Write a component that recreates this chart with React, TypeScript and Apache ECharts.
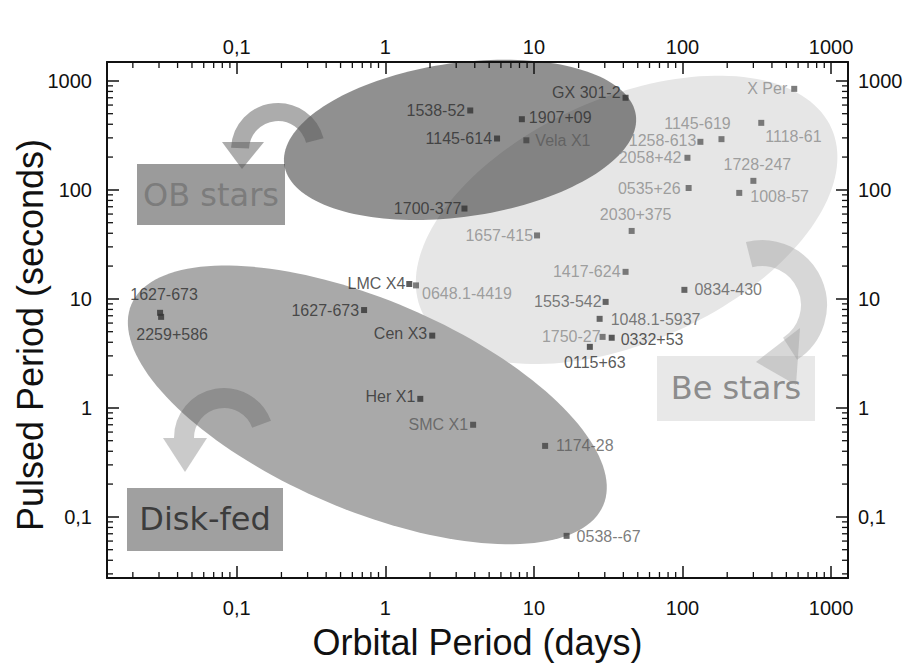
import { useEffect, useRef } from "react";
import * as echarts from "echarts";

// ---------- data ----------
const sourceNames = [
  "GX 301-2", "1538-52", "1907+09", "1145-614", "Vela X1", "1700-377", "1657-415",
  "X Per", "1145-619", "1258-613", "1118-61", "2058+42", "1728-247", "1008-57",
  "0535+26", "2030+375", "1417-624", "0834-430", "1553-542", "1048.1-5937",
  "1750-27", "0332+53", "0115+63", "LMC X4", "0648.1-4419", "1627-673",
  "1627-673", "2259+586", "Cen X3", "Her X1", "SMC X1", "1174-28", "0538--67",
];
const orbitalDays = [
  41.4, 3.73, 8.3, 5.65, 8.9, 3.41, 10.5,
  565, 183, 132, 339, 108, 300, 241,
  110, 45.5, 41.4, 103, 30.4, 27.7,
  29.0, 33.4, 23.8, 1.45, 1.61, 0.72,
  0.0305, 0.031, 2.07, 1.72, 3.9, 11.9, 16.6,
];
const pulsedSeconds = [
  700, 535, 445, 296, 285, 67.4, 38.2,
  845, 292, 276, 412, 197, 121, 93.8,
  104, 42, 17.7, 12.1, 9.38, 6.56,
  4.48, 4.4, 3.63, 13.7, 13.3, 7.9,
  7.45, 6.84, 4.6, 1.21, 0.70, 0.448, 0.067,
];
// tone of marker/label: 0 = dark, 1 = mid grey, 2 = light grey
const sourceTone = [
  0, 0, 0, 0, 1, 0, 2,
  2, 2, 2, 2, 2, 2, 2,
  2, 2, 2, 1, 1, 1,
  2, 0, 0, 0, 2, 0,
  0, 0, 0, 0, 1, 1, 1,
];

const regionNames = ["Be stars", "Disk-fed", "OB stars"];
// ellipse centre (log10 days, log10 s) and two conjugate half-axes (decades)
const regionCentre = [[1.624, 1.725], [-0.121, 0.0275], [0.503, 2.459]];
const regionAxisU = [[1.379, 0.839], [1.588, -0.921], [1.183, 0.2275]];
const regionAxisV = [[0.333, -1.023], [-0.275, -0.887], [0.0718, -0.6995]];

const xMin = 0.0134, xMax = 1300;
const yMin = 0.0275, yMax = 1490;
const minorFactors = [2, 3, 4, 5, 6, 7, 8, 9];
const decades = [0.01, 0.1, 1, 10, 100, 1000];

// ---------- styles ----------
const FONT = "'Liberation Sans', Arial, sans-serif";
const toneLabel = ["#2e2e2e", "#5a5a5a", "#8a8a8a"];
const toneMark = ["#333333", "#444444", "#5c5c5c"];
const regionFill = ["#e6e6e6", "#a9a9a9", "rgba(20,20,20,0.47)"];

// [position, distance, dx, dy]
const labelPlace: [string, number, number, number][] = [
  ["left", 2, 0, -5], ["left", 2, 0, 0], ["right", 4, 0, -2], ["left", 2, 0, 0],
  ["right", 6, 0, 0], ["left", 0, 0, 0], ["left", 1, 0, 0],
  ["left", 4, 0, 0], ["top", 5, -24, 0], ["left", 1, 0, -1], ["right", 1, 0, 14],
  ["left", 3, 0, 0], ["top", 5, 4, 0], ["right", 8, 0, 4],
  ["left", 5, 0, 0], ["top", 5, 4, 0], ["left", 2, 0, 0], ["right", 7, 0, 0],
  ["left", 1, 0, 0], ["right", 8, 0, 1],
  ["left", -1, 0, 0], ["right", 6, 0, 2], ["bottom", 5, 5, 0], ["left", 1, 0, 0],
  ["right", 3, 0, 8], ["left", 2, 0, 0],
  ["top", 5, 4, -2], ["bottom", 5, 11, 2], ["left", 2, 0, -2], ["left", 2, 0, -2],
  ["left", 2, 0, 0], ["right", 8, 0, 0], ["right", 7, 0, 1],
];

const fmt = (v: number) => {
  const e = Math.log10(v);
  const r = Math.round(e);
  if (Math.abs(e - r) > 1e-6) return "";
  if (r < 0) return "0," + "0".repeat(-r - 1) + "1";
  return String(Math.round(Math.pow(10, r)));
};

function axisCommon(min: number, max: number, margin: number) {
  return {
    type: "log" as const,
    logBase: 10,
    min,
    max,
    nameMoveOverlap: false,
    axisLine: { show: true, onZero: false, lineStyle: { color: "#111", width: 2 } },
    axisTick: { show: true, inside: true, length: 12, lineStyle: { color: "#111", width: 1.5 } },
    axisLabel: {
      show: true,
      formatter: fmt,
      fontSize: 20,
      fontFamily: FONT,
      color: "#111",
      margin,
      showMinLabel: false,
      showMaxLabel: false,
    },
    splitLine: { show: false },
    minorTick: { show: false },
  };
}

export default function App() {
  const ref = useRef<HTMLDivElement>(null);
  useEffect(() => {
    if (!ref.current) return;
    const chart = echarts.init(ref.current, undefined, { renderer: "svg" });

    const points = sourceNames.map((n, i) => {
      const [pos, dist, dx, dy] = labelPlace[i];
      const t = sourceTone[i];
      return {
        name: n,
        value: [orbitalDays[i], pulsedSeconds[i]],
        itemStyle: { color: toneMark[t] },
        label: {
          show: true,
          formatter: n,
          position: pos,
          distance: dist,
          offset: [dx, dy],
          color: toneLabel[t],
          fontSize: 16,
          fontFamily: FONT,
        },
      };
    });

    const minorXs: number[] = [];
    const minorYs: number[] = [];
    decades.forEach((d) =>
      minorFactors.forEach((f) => {
        const v = d * f;
        if (v > xMin && v < xMax) minorXs.push(v);
        if (v > yMin && v < yMax) minorYs.push(v);
      })
    );

    const option: any = {
      animation: false,
      backgroundColor: "#fff",
      grid: { left: 107, right: 59, top: 62, bottom: 90, containLabel: false, outerBoundsMode: "none" },
      xAxis: [
        {
          ...axisCommon(xMin, xMax, 20),
          position: "bottom",
          name: "Orbital Period (days)",
          nameLocation: "middle",
          nameGap: 46,
          nameTextStyle: { fontSize: 36, fontFamily: FONT, color: "#111" },
        },
        { ...axisCommon(xMin, xMax, 5), position: "top" },
      ],
      yAxis: [
        {
          ...axisCommon(yMin, yMax, 15),
          position: "left",
          name: "Pulsed Period (seconds)",
          nameLocation: "middle",
          nameGap: 59,
          nameTextStyle: { fontSize: 36, fontFamily: FONT, color: "#111", padding: [0, 30, 0, 0] },
        },
        { ...axisCommon(yMin, yMax, 10), position: "right" },
      ],
      series: [
        {
          type: "custom",
          name: "regions",
          silent: true,
          clip: false,
          z: 1,
          data: regionNames.map((n, i) => ({
            name: n,
            value: [Math.pow(10, regionCentre[i][0]), Math.pow(10, regionCentre[i][1])],
          })),
          encode: { x: 0, y: 1 },
          renderItem: (params: any, api: any) => {
            const i = params.dataIndex;
            const c = regionCentre[i], u = regionAxisU[i], v = regionAxisV[i];
            const pts: number[][] = [];
            for (let k = 0; k < 160; k++) {
              const t = (k / 160) * Math.PI * 2;
              const lx = c[0] + u[0] * Math.cos(t) + v[0] * Math.sin(t);
              const ly = c[1] + u[1] * Math.cos(t) + v[1] * Math.sin(t);
              pts.push(api.coord([Math.pow(10, lx), Math.pow(10, ly)]));
            }
            return { type: "polygon", shape: { points: pts }, style: { fill: regionFill[i] } };
          },
        },
        {
          type: "custom",
          name: "minorTicks",
          silent: true,
          clip: false,
          z: 5,
          data: [[1, 1]],
          encode: { x: 0, y: 1 },
          renderItem: (params: any, api: any) => {
            const cs = params.coordSys;
            const top = cs.y, bottom = cs.y + cs.height, left = cs.x, right = cs.x + cs.width;
            const st = { stroke: "#111", lineWidth: 1.3 };
            const children: any[] = [];
            minorXs.forEach((mv) => {
              const x = api.coord([mv, 1])[0];
              children.push({ type: "line", shape: { x1: x, y1: bottom, x2: x, y2: bottom - 6 }, style: st });
              children.push({ type: "line", shape: { x1: x, y1: top, x2: x, y2: top + 6 }, style: st });
            });
            minorYs.forEach((mv) => {
              const y = api.coord([1, mv])[1];
              children.push({ type: "line", shape: { x1: left, y1: y, x2: left + 6, y2: y }, style: st });
              children.push({ type: "line", shape: { x1: right, y1: y, x2: right - 6, y2: y }, style: st });
            });
            return { type: "group", children };
          },
        },
        {
          type: "scatter",
          name: "sources",
          symbol: "rect",
          symbolSize: 6,
          z: 6,
          data: points,
        },
      ],
      graphic: [
        // OB stars arrow
        {
          type: "arc", z: 10, silent: true,
          shape: { cx: 278, cy: 150, r: 38, startAngle: -0.25, endAngle: -Math.PI + 0.05, clockwise: false },
          style: { stroke: "rgba(90,90,90,0.5)", lineWidth: 18, fill: "none" },
        },
        {
          type: "polygon", z: 10, silent: true,
          shape: { points: [[222, 142], [264, 142], [242, 169]] },
          style: { fill: "rgba(90,90,90,0.5)" },
        },
        // Be stars arrow
        {
          type: "arc", z: 10, silent: true,
          shape: { cx: 762, cy: 305, r: 52, startAngle: -Math.PI / 2 - 0.25, endAngle: 1.0, clockwise: true },
          style: { stroke: "rgba(150,150,150,0.38)", lineWidth: 26, fill: "none" },
        },
        {
          type: "polygon", z: 10, silent: true,
          shape: { points: [[800, 328], [796, 385], [756, 362]] },
          style: { fill: "rgba(150,150,150,0.38)" },
        },
        // Disk-fed arrow
        {
          type: "arc", z: 10, silent: true,
          shape: { cx: 224, cy: 438, r: 40, startAngle: -0.35, endAngle: -Math.PI, clockwise: false },
          style: { stroke: "rgba(80,80,80,0.3)", lineWidth: 20, fill: "none" },
        },
        {
          type: "polygon", z: 10, silent: true,
          shape: { points: [[163, 438], [207, 438], [185, 472]] },
          style: { fill: "rgba(80,80,80,0.3)" },
        },
        // labels
        {
          type: "group", z: 11, silent: true,
          children: [
            { type: "rect", shape: { x: 137, y: 164, width: 148, height: 61 }, style: { fill: "#9b9b9b" } },
            {
              type: "text", x: 211, y: 195,
              style: { text: "OB stars", fill: "#7c7c7c", font: "32px 'DejaVu Sans'", textAlign: "center", textVerticalAlign: "middle", align: "center", verticalAlign: "middle" },
            },
          ],
        },
        {
          type: "group", z: 11, silent: true,
          children: [
            { type: "rect", shape: { x: 657, y: 356, width: 158, height: 65 }, style: { fill: "#e8e8e8" } },
            {
              type: "text", x: 736, y: 388,
              style: { text: "Be stars", fill: "#8c8c8c", font: "32px 'DejaVu Sans'", textAlign: "center", textVerticalAlign: "middle", align: "center", verticalAlign: "middle" },
            },
          ],
        },
        {
          type: "group", z: 11, silent: true,
          children: [
            { type: "rect", shape: { x: 127, y: 488, width: 156, height: 63 }, style: { fill: "#a0a0a0" } },
            {
              type: "text", x: 205, y: 519,
              style: { text: "Disk-fed", fill: "#3c3c3c", font: "32px 'DejaVu Sans'", textAlign: "center", textVerticalAlign: "middle", align: "center", verticalAlign: "middle" },
            },
          ],
        },
      ],
    };
    chart.setOption(option);
    return () => chart.dispose();
  }, []);
  return (
    <div
      ref={ref}
      style={{ position: "fixed", left: 0, top: 0, width: 907, height: 668, background: "#fff" }}
    />
  );
}
